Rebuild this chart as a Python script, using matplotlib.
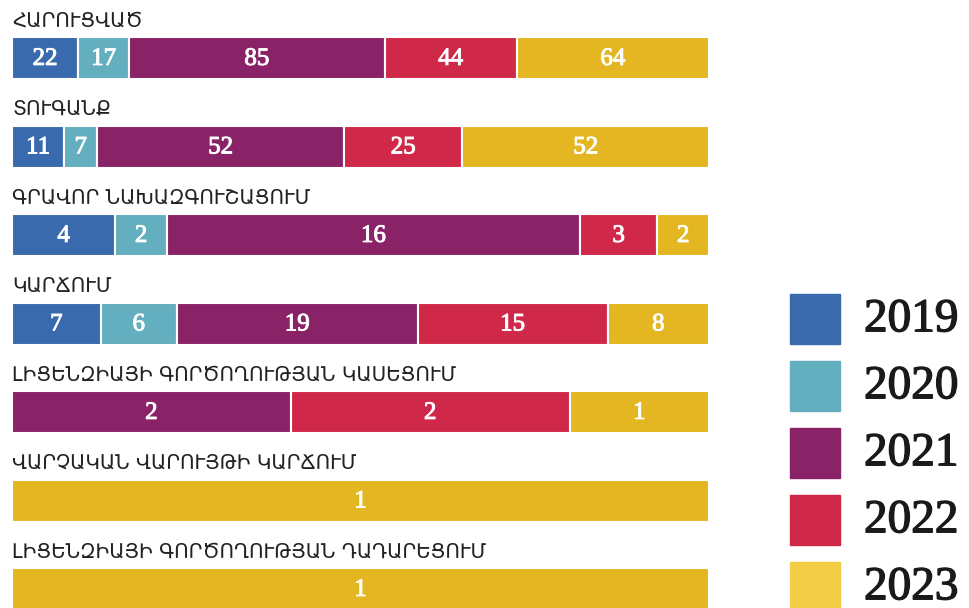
import matplotlib
matplotlib.use("Agg")
import matplotlib.pyplot as plt
from matplotlib.patches import Rectangle
import matplotlib.patheffects as pe
import numpy as np

categories = [
    "ՀԱՐՈՒՑՎԱԾ",
    "ՏՈՒԳԱՆՔ",
    "ԳՐԱՎՈՐ ՆԱԽԱԶԳՈՒՇԱՑՈՒՄ",
    "ԿԱՐՃՈՒՄ",
    "ԼԻՑԵՆԶԻԱՅԻ ԳՈՐԾՈՂՈՒԹՅԱՆ ԿԱՍԵՑՈՒՄ",
    "ՎԱՐՉԱԿԱՆ ՎԱՐՈՒՅԹԻ ԿԱՐՃՈՒՄ",
    "ԼԻՑԵՆԶԻԱՅԻ ԳՈՐԾՈՂՈՒԹՅԱՆ ԴԱԴԱՐԵՑՈՒՄ",
]
years = ["2019", "2020", "2021", "2022", "2023"]
v2019 = [22, 11, 4, 7, 0, 0, 0]
v2020 = [17, 7, 2, 6, 0, 0, 0]
v2021 = [85, 52, 16, 19, 2, 0, 0]
v2022 = [44, 25, 3, 15, 2, 0, 0]
v2023 = [64, 52, 2, 8, 1, 1, 1]

bar_colors = ["#3a6aae", "#63afc0", "#8a2268", "#d02848", "#e3b622"]
legend_colors = ["#3a6aae", "#63afc0", "#8a2268", "#d02848", "#f3cd45"]

W, H = 969, 608
fig = plt.figure(figsize=(W / 100, H / 100), dpi=100)

# main axes: x in fraction of row total, y rows (pitch 88.5 px, first bar centre at 58 px)
ax = fig.add_axes([12 / W, 0, (709 - 12) / W, 1])
pitch, c0 = 88.5, 58
ax.set_xlim(0, 1)
ax.set_ylim((H - c0) / pitch, -c0 / pitch)
ax.axis("off")

data = np.array([v2019, v2020, v2021, v2022, v2023], dtype=float)
totals = data.sum(axis=0)
frac = data / totals
left = np.zeros(len(categories))
ypos = np.arange(len(categories))
thick = [pe.withStroke(linewidth=0.7, foreground="white")]
for k in range(len(years)):
    ax.barh(ypos, frac[k], left=left, height=42 / pitch, color=bar_colors[k],
            edgecolor="white", linewidth=1.5)
    for i in range(len(categories)):
        if data[k, i] > 0:
            ax.text(left[i] + frac[k, i] / 2, ypos[i] + 0.01, f"{int(data[k, i])}",
                    ha="center", va="center", color="white", fontsize=18,
                    family="Liberation Serif", path_effects=thick)
    left += frac[k]

for i, cat in enumerate(categories):
    ax.text(0, ypos[i] - 0.42, cat, ha="left", va="center", fontsize=14.3,
            color="#222222", family="DejaVu Sans")

# legend
lax = fig.add_axes([0, 0, 1, 1])
lax.set_xlim(0, W)
lax.set_ylim(H, 0)
lax.axis("off")
dark = [pe.withStroke(linewidth=1.0, foreground="#1a1a1a")]
for k, yr in enumerate(years):
    top = 294 + 67 * k
    lax.add_patch(Rectangle((790, top), 50, 50, color=legend_colors[k]))
    lax.text(864, top + 26, yr, ha="left", va="center", fontsize=34,
             color="#1a1a1a", family="Liberation Serif", path_effects=dark)

fig.savefig("out.png", dpi=100)
